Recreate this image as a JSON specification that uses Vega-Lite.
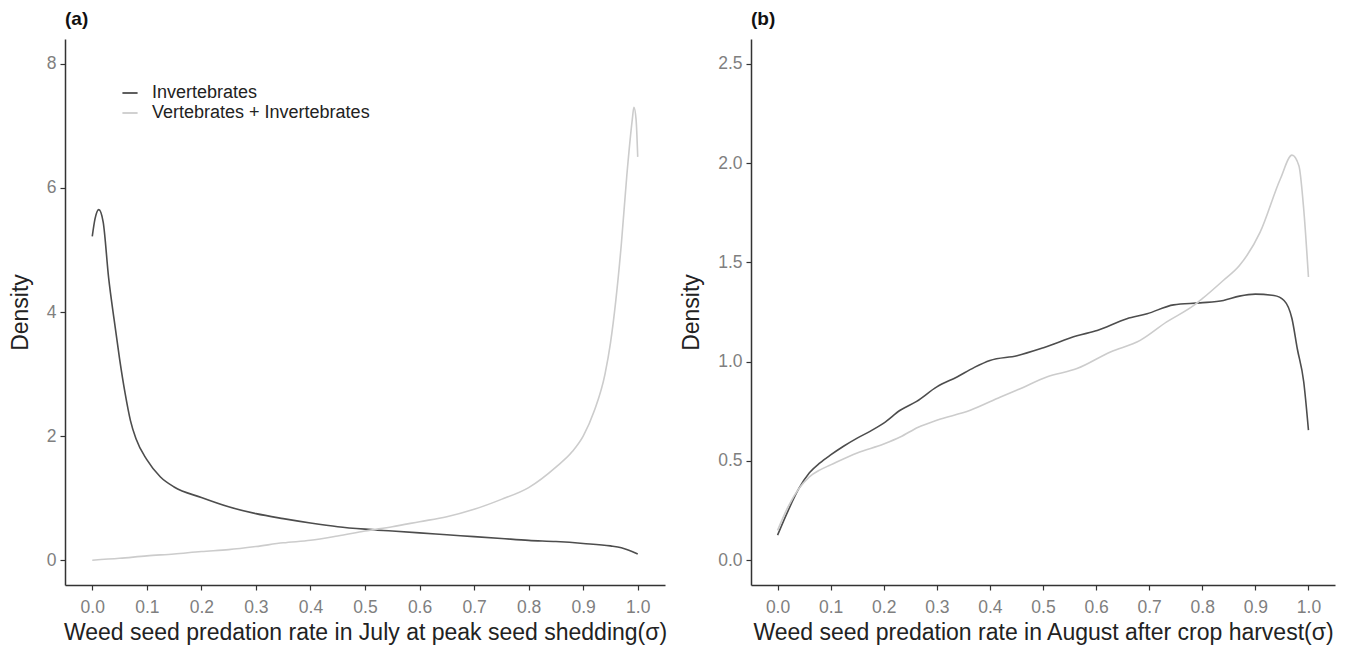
{
  "$schema": "https://vega.github.io/schema/vega-lite/v6.json",
  "padding": {"left": 9, "top": 10, "right": 5, "bottom": 5},
  "background": "white",
  "config": {
    "font": "Liberation Sans",
    "view": {"stroke": null},
    "axis": {
      "grid": false,
      "domainColor": "#333333",
      "domainWidth": 1.5,
      "tickColor": "#333333",
      "tickWidth": 1.2,
      "tickSize": 5,
      "labelColor": "#7f7f7f",
      "labelFontSize": 17.5,
      "labelFont": "Liberation Sans",
      "titleFont": "Liberation Sans",
      "titleFontSize": 23,
      "titleFontWeight": "normal",
      "titleColor": "#222222"
    },
    "title": {"anchor": "start", "frame": "group", "fontSize": 19, "fontWeight": "bold", "color": "#111111", "font": "Liberation Sans", "offset": 10},
    "concat": {"spacing": 86}
  },
  "bounds": "flush",
  "datasets": {
    "a": [
      {"x": 0, "y": 5.22, "group": "Invertebrates"},
      {"x": 0.005, "y": 5.5, "group": "Invertebrates"},
      {"x": 0.012, "y": 5.65, "group": "Invertebrates"},
      {"x": 0.02, "y": 5.45, "group": "Invertebrates"},
      {"x": 0.03, "y": 4.55, "group": "Invertebrates"},
      {"x": 0.04, "y": 3.88, "group": "Invertebrates"},
      {"x": 0.05, "y": 3.25, "group": "Invertebrates"},
      {"x": 0.06, "y": 2.7, "group": "Invertebrates"},
      {"x": 0.07, "y": 2.25, "group": "Invertebrates"},
      {"x": 0.08, "y": 1.96, "group": "Invertebrates"},
      {"x": 0.1, "y": 1.62, "group": "Invertebrates"},
      {"x": 0.125, "y": 1.34, "group": "Invertebrates"},
      {"x": 0.15, "y": 1.18, "group": "Invertebrates"},
      {"x": 0.2, "y": 1.01, "group": "Invertebrates"},
      {"x": 0.25, "y": 0.86, "group": "Invertebrates"},
      {"x": 0.3, "y": 0.75, "group": "Invertebrates"},
      {"x": 0.35, "y": 0.67, "group": "Invertebrates"},
      {"x": 0.4, "y": 0.6, "group": "Invertebrates"},
      {"x": 0.45, "y": 0.54, "group": "Invertebrates"},
      {"x": 0.5, "y": 0.5, "group": "Invertebrates"},
      {"x": 0.55, "y": 0.47, "group": "Invertebrates"},
      {"x": 0.6, "y": 0.44, "group": "Invertebrates"},
      {"x": 0.65, "y": 0.41, "group": "Invertebrates"},
      {"x": 0.7, "y": 0.38, "group": "Invertebrates"},
      {"x": 0.75, "y": 0.35, "group": "Invertebrates"},
      {"x": 0.8, "y": 0.32, "group": "Invertebrates"},
      {"x": 0.85, "y": 0.3, "group": "Invertebrates"},
      {"x": 0.9, "y": 0.27, "group": "Invertebrates"},
      {"x": 0.95, "y": 0.23, "group": "Invertebrates"},
      {"x": 0.97, "y": 0.2, "group": "Invertebrates"},
      {"x": 1.0, "y": 0.1, "group": "Invertebrates"},
      {"x": 0, "y": 0.0, "group": "Vertebrates + Invertebrates"},
      {"x": 0.05, "y": 0.03, "group": "Vertebrates + Invertebrates"},
      {"x": 0.1, "y": 0.07, "group": "Vertebrates + Invertebrates"},
      {"x": 0.15, "y": 0.1, "group": "Vertebrates + Invertebrates"},
      {"x": 0.2, "y": 0.14, "group": "Vertebrates + Invertebrates"},
      {"x": 0.25, "y": 0.17, "group": "Vertebrates + Invertebrates"},
      {"x": 0.3, "y": 0.22, "group": "Vertebrates + Invertebrates"},
      {"x": 0.35, "y": 0.28, "group": "Vertebrates + Invertebrates"},
      {"x": 0.4, "y": 0.32, "group": "Vertebrates + Invertebrates"},
      {"x": 0.45, "y": 0.39, "group": "Vertebrates + Invertebrates"},
      {"x": 0.5, "y": 0.47, "group": "Vertebrates + Invertebrates"},
      {"x": 0.55, "y": 0.54, "group": "Vertebrates + Invertebrates"},
      {"x": 0.6, "y": 0.62, "group": "Vertebrates + Invertebrates"},
      {"x": 0.65, "y": 0.7, "group": "Vertebrates + Invertebrates"},
      {"x": 0.7, "y": 0.82, "group": "Vertebrates + Invertebrates"},
      {"x": 0.75, "y": 0.98, "group": "Vertebrates + Invertebrates"},
      {"x": 0.8, "y": 1.17, "group": "Vertebrates + Invertebrates"},
      {"x": 0.85, "y": 1.5, "group": "Vertebrates + Invertebrates"},
      {"x": 0.88, "y": 1.75, "group": "Vertebrates + Invertebrates"},
      {"x": 0.9, "y": 2.0, "group": "Vertebrates + Invertebrates"},
      {"x": 0.92, "y": 2.4, "group": "Vertebrates + Invertebrates"},
      {"x": 0.94, "y": 3.0, "group": "Vertebrates + Invertebrates"},
      {"x": 0.95, "y": 3.5, "group": "Vertebrates + Invertebrates"},
      {"x": 0.96, "y": 4.2, "group": "Vertebrates + Invertebrates"},
      {"x": 0.97, "y": 5.1, "group": "Vertebrates + Invertebrates"},
      {"x": 0.98, "y": 6.2, "group": "Vertebrates + Invertebrates"},
      {"x": 0.99, "y": 7.1, "group": "Vertebrates + Invertebrates"},
      {"x": 0.993, "y": 7.3, "group": "Vertebrates + Invertebrates"},
      {"x": 0.997, "y": 7.1, "group": "Vertebrates + Invertebrates"},
      {"x": 1.0, "y": 6.5, "group": "Vertebrates + Invertebrates"}
    ],
    "b": [
      {"x": 0, "y": 0.126, "group": "Invertebrates"},
      {"x": 0.02, "y": 0.25, "group": "Invertebrates"},
      {"x": 0.04, "y": 0.36, "group": "Invertebrates"},
      {"x": 0.06, "y": 0.44, "group": "Invertebrates"},
      {"x": 0.08, "y": 0.49, "group": "Invertebrates"},
      {"x": 0.1, "y": 0.53, "group": "Invertebrates"},
      {"x": 0.125, "y": 0.575, "group": "Invertebrates"},
      {"x": 0.15, "y": 0.615, "group": "Invertebrates"},
      {"x": 0.175, "y": 0.65, "group": "Invertebrates"},
      {"x": 0.2, "y": 0.69, "group": "Invertebrates"},
      {"x": 0.231, "y": 0.755, "group": "Invertebrates"},
      {"x": 0.262, "y": 0.8, "group": "Invertebrates"},
      {"x": 0.3, "y": 0.873, "group": "Invertebrates"},
      {"x": 0.338, "y": 0.923, "group": "Invertebrates"},
      {"x": 0.37, "y": 0.97, "group": "Invertebrates"},
      {"x": 0.4, "y": 1.006, "group": "Invertebrates"},
      {"x": 0.451, "y": 1.03, "group": "Invertebrates"},
      {"x": 0.501, "y": 1.07, "group": "Invertebrates"},
      {"x": 0.564, "y": 1.13, "group": "Invertebrates"},
      {"x": 0.602, "y": 1.157, "group": "Invertebrates"},
      {"x": 0.658, "y": 1.216, "group": "Invertebrates"},
      {"x": 0.696, "y": 1.241, "group": "Invertebrates"},
      {"x": 0.746, "y": 1.286, "group": "Invertebrates"},
      {"x": 0.796, "y": 1.296, "group": "Invertebrates"},
      {"x": 0.84, "y": 1.308, "group": "Invertebrates"},
      {"x": 0.87, "y": 1.33, "group": "Invertebrates"},
      {"x": 0.9, "y": 1.34, "group": "Invertebrates"},
      {"x": 0.935, "y": 1.333, "group": "Invertebrates"},
      {"x": 0.954, "y": 1.308, "group": "Invertebrates"},
      {"x": 0.969, "y": 1.216, "group": "Invertebrates"},
      {"x": 0.979, "y": 1.065, "group": "Invertebrates"},
      {"x": 0.991, "y": 0.9, "group": "Invertebrates"},
      {"x": 1.0, "y": 0.655, "group": "Invertebrates"},
      {"x": 0, "y": 0.15, "group": "Vertebrates + Invertebrates"},
      {"x": 0.02, "y": 0.27, "group": "Vertebrates + Invertebrates"},
      {"x": 0.04, "y": 0.36, "group": "Vertebrates + Invertebrates"},
      {"x": 0.06, "y": 0.42, "group": "Vertebrates + Invertebrates"},
      {"x": 0.08, "y": 0.455, "group": "Vertebrates + Invertebrates"},
      {"x": 0.1, "y": 0.48, "group": "Vertebrates + Invertebrates"},
      {"x": 0.15, "y": 0.54, "group": "Vertebrates + Invertebrates"},
      {"x": 0.2, "y": 0.585, "group": "Vertebrates + Invertebrates"},
      {"x": 0.231, "y": 0.62, "group": "Vertebrates + Invertebrates"},
      {"x": 0.265, "y": 0.67, "group": "Vertebrates + Invertebrates"},
      {"x": 0.3, "y": 0.705, "group": "Vertebrates + Invertebrates"},
      {"x": 0.363, "y": 0.755, "group": "Vertebrates + Invertebrates"},
      {"x": 0.42, "y": 0.822, "group": "Vertebrates + Invertebrates"},
      {"x": 0.457, "y": 0.864, "group": "Vertebrates + Invertebrates"},
      {"x": 0.507, "y": 0.923, "group": "Vertebrates + Invertebrates"},
      {"x": 0.564, "y": 0.965, "group": "Vertebrates + Invertebrates"},
      {"x": 0.627, "y": 1.049, "group": "Vertebrates + Invertebrates"},
      {"x": 0.683, "y": 1.107, "group": "Vertebrates + Invertebrates"},
      {"x": 0.733, "y": 1.2, "group": "Vertebrates + Invertebrates"},
      {"x": 0.784, "y": 1.283, "group": "Vertebrates + Invertebrates"},
      {"x": 0.8, "y": 1.317, "group": "Vertebrates + Invertebrates"},
      {"x": 0.84, "y": 1.41, "group": "Vertebrates + Invertebrates"},
      {"x": 0.87, "y": 1.484, "group": "Vertebrates + Invertebrates"},
      {"x": 0.909, "y": 1.652, "group": "Vertebrates + Invertebrates"},
      {"x": 0.947, "y": 1.92, "group": "Vertebrates + Invertebrates"},
      {"x": 0.969, "y": 2.04, "group": "Vertebrates + Invertebrates"},
      {"x": 0.982, "y": 1.987, "group": "Vertebrates + Invertebrates"},
      {"x": 0.991, "y": 1.77, "group": "Vertebrates + Invertebrates"},
      {"x": 1.0, "y": 1.426, "group": "Vertebrates + Invertebrates"}
    ]
  },
  "resolve": {"legend": {"color": "independent"}, "scale": {"y": "independent", "x": "independent"}},
  "hconcat": [
    {
      "title": "(a)",
      "width": 600,
      "height": 546,
      "data": {"name": "a"},
      "mark": {"type": "line", "strokeWidth": 1.6, "interpolate": "monotone"},
      "encoding": {
        "x": {"field": "x", "type": "quantitative",
          "scale": {"domain": [-0.05, 1.05], "nice": false, "zero": false},
          "axis": {"values": [0, 0.1, 0.2, 0.3, 0.4, 0.5, 0.6, 0.7, 0.8, 0.9, 1.0], "format": ".1f", "labelPadding": 8, "titlePadding": 6,
            "title": "Weed seed predation rate in July at peak seed shedding(σ)"}},
        "y": {"field": "y", "type": "quantitative",
          "scale": {"domain": [-0.4, 8.4], "nice": false, "zero": false},
          "axis": {"values": [0, 2, 4, 6, 8], "labelPadding": 4, "titlePadding": 14, "title": "Density"}},
        "color": {"field": "group", "type": "nominal",
          "scale": {"domain": ["Invertebrates", "Vertebrates + Invertebrates"], "range": ["#4d4d4d", "#cccccc"]},
          "legend": {"title": null, "orient": "none", "legendX": 56, "legendY": 45, "symbolType": "stroke", "symbolStrokeWidth": 1.8, "symbolSize": 230,
            "labelFontSize": 18, "labelLimit": 0, "labelColor": "#222222", "labelFont": "Liberation Sans", "rowPadding": 2, "labelOffset": 13}}
      }
    },
    {
      "title": "(b)",
      "width": 584,
      "height": 546,
      "data": {"name": "b"},
      "mark": {"type": "line", "strokeWidth": 1.6, "interpolate": "monotone"},
      "encoding": {
        "x": {"field": "x", "type": "quantitative",
          "scale": {"domain": [-0.05, 1.05], "nice": false, "zero": false},
          "axis": {"values": [0, 0.1, 0.2, 0.3, 0.4, 0.5, 0.6, 0.7, 0.8, 0.9, 1.0], "format": ".1f", "labelPadding": 8, "titlePadding": 6,
            "title": "Weed seed predation rate in August after crop harvest(σ)"}},
        "y": {"field": "y", "type": "quantitative",
          "scale": {"domain": [-0.125, 2.625], "nice": false, "zero": false},
          "axis": {"values": [0, 0.5, 1, 1.5, 2, 2.5], "format": ".1f", "labelPadding": 4, "titlePadding": 14, "title": "Density"}},
        "color": {"field": "group", "type": "nominal",
          "scale": {"domain": ["Invertebrates", "Vertebrates + Invertebrates"], "range": ["#4d4d4d", "#cccccc"]},
          "legend": null}
      }
    }
  ]
}
